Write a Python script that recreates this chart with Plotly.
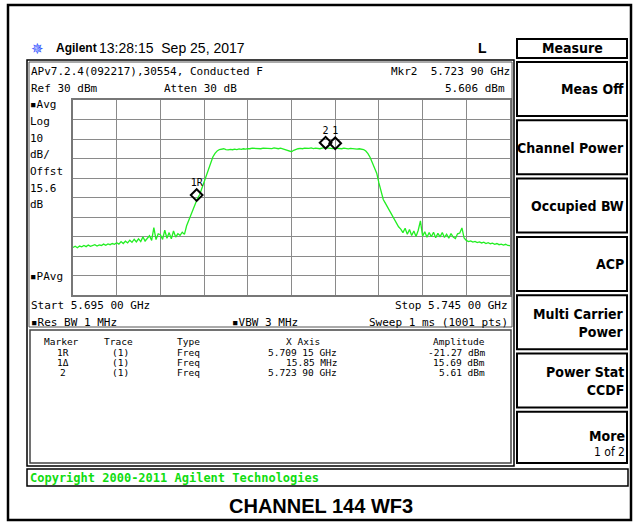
import numpy as np
import plotly.graph_objects as go

W, H = 636, 524

# ---------------- data ----------------
start_mhz, stop_mhz, n_pts = 5695.0, 5745.0, 201
trace_dbm = [
    -45.6, -45.0, -45.8, -44.9, -45.3, -44.6, -45.2, -44.4, -45.0, -44.7,
    -44.2, -44.9, -44.3, -44.6, -43.9, -44.5, -43.8, -44.2, -43.6, -44.0,
    -43.2, -43.9, -42.6, -43.6, -42.4, -43.3, -41.9, -43.0, -41.4, -42.8,
    -41.2, -42.6, -40.2, -42.3, -40.8, -39.6, -42.0, -35.5, -41.6, -38.6,
    -39.1, -41.5, -36.8, -40.9, -38.0, -41.2, -37.2, -40.3, -38.6, -39.4,
    -37.8, -38.9, -34.5, -31.5, -28.5, -25.8, -22.8, -20.4, -18.5, -15.2,
    -12.0, -8.5, -5.0, -1.8, 0.8, 2.6, 3.9, 4.6, 4.9, 5.0,
    4.6, 4.4, 4.7, 4.5, 4.8, 4.6, 4.9, 4.7, 5.0, 4.8,
    5.1, 5.0, 5.3, 5.2, 5.4, 5.1, 5.0, 5.3, 5.2, 5.4,
    5.3, 5.1, 5.4, 5.2, 5.0, 5.3, 4.9, 4.5, 4.0, 3.6,
    3.5, 4.2, 4.8, 5.0, 5.2, 5.0, 5.3, 5.1, 5.2, 5.4,
    5.1, 5.3, 5.2, 5.0, 5.3, 5.6, 5.4, 5.2, 5.3, 5.1,
    5.3, 5.1, 5.2, 5.0, 5.3, 5.1, 4.9, 5.2, 5.0, 5.1,
    4.8, 5.0, 4.9, 4.6, 3.8, 2.5, 0.5, -2.0, -4.5, -7.5,
    -12.5, -17.5, -21.0, -23.0, -25.0, -27.5, -29.5, -31.5, -33.5, -35.0,
    -36.2, -38.0, -35.8, -38.9, -36.4, -39.5, -37.2, -40.0, -36.8, -32.0,
    -39.8, -37.6, -40.4, -38.0, -40.1, -37.8, -40.6, -38.4, -40.2, -37.9,
    -40.5, -38.8, -40.9, -38.5, -40.3, -41.0, -38.6, -38.2, -35.6, -40.8,
    -42.0, -42.6, -42.3, -42.9, -42.5, -43.1, -42.8, -43.3, -42.9, -43.6,
    -43.2, -43.7, -43.4, -44.0, -43.6, -44.2, -43.9, -44.4, -44.0, -44.6,
    -44.7,
]
freq_mhz = np.linspace(start_mhz, stop_mhz, n_pts)

marker_labels = ["1R", "1", "2"]
marker_freq_mhz = [5709.15, 5725.00, 5723.90]
marker_amp_dbm = [-21.27, 5.3, 5.61]

ref_dbm, db_per_div = 30, 10

table_rows = [
    ["1R", "(1)", "Freq", "5.709 15 GHz", "-21.27 dBm"],
    ["1\u0394", "(1)", "Freq", "15.85 MHz", "15.69 dBm"],
    ["2", "(1)", "Freq", "5.723 90 GHz", "5.61 dBm"],
]
softkeys = ["Meas Off", "Channel Power", "Occupied BW", "ACP",
            "Multi Carrier<br>Power", "Power Stat<br>CCDF", "More"]

# ---------------- helpers ----------------
MONO = "DejaVu Sans Mono"
SANS = "Liberation Sans"
KEYF = "DejaVu Sans Condensed"
ann = []
shp = []


def T(x, y, text, size=11, anchor="left", family=MONO, color="black", bold=False):
    if bold:
        text = "<b>" + text + "</b>"
    ann.append(dict(xref="paper", yref="paper", x=x / W, y=1 - y / H, text=text,
                    showarrow=False, xanchor=anchor, yanchor="middle",
                    borderpad=0, borderwidth=0,
                    font=dict(family=family, size=size, color=color)))


def R(x0, y0, x1, y1, lw=1, color="black", fill=None):
    shp.append(dict(type="rect", xref="paper", yref="paper",
                    x0=x0 / W, x1=x1 / W, y0=1 - y1 / H, y1=1 - y0 / H,
                    line=dict(color=color, width=lw),
                    fillcolor=fill if fill else "rgba(0,0,0,0)", layer="above"))


# ---------------- figure ----------------
fig = go.Figure()
fig.add_trace(go.Scatter(x=freq_mhz, y=trace_dbm, mode="lines",
                         line=dict(color="#22ee22", width=1.3), hoverinfo="skip"))
# marker diamonds are drawn just above the marked point
fig.add_trace(go.Scatter(x=marker_freq_mhz, y=[a + 2.5 for a in marker_amp_dbm],
                         mode="markers+text", text=marker_labels,
                         textposition="top center",
                         textfont=dict(family=MONO, size=10, color="black"),
                         marker=dict(symbol="diamond-open", size=9,
                                     line=dict(color="black", width=2), color="black"),
                         hoverinfo="skip"))

# outer frame
R(8, 5, 631, 520, lw=2.5)
# header
T(31, 48, "<span style='color:#3355ff'>\u2735</span>", size=15, family=SANS)
T(56, 48, "Agilent", size=12, family=SANS, bold=True)
T(99, 48, "13:28:15&nbsp;&nbsp;Sep 25, 2017", size=14, family=SANS)
T(487, 48, "L", size=14, family=SANS, bold=True, anchor="right")

# main screen box (double border)
R(27, 60, 514, 466, lw=1.5)
R(29, 62, 512, 327, lw=1, color="#555555")
R(30, 330, 511, 463, lw=1.5, color="#444444")

T(31, 71, "APv7.2.4(092217),30554, Conducted F")
T(31, 88, "Ref 30 dBm")
T(164, 88, "Atten 30 dB")
T(510, 71, "Mkr2  5.723 90 GHz", anchor="right")
T(505, 88, "5.606 dBm", anchor="right")

left_labels = ["\u25aaAvg", "Log", "10", "dB/", "Offst", "15.6", "dB"]
for i, s in enumerate(left_labels):
    T(30, 105 + 16.6 * i, s)
T(30, 276, "\u25aaPAvg")

T(31, 305, "Start 5.695 00 GHz")
T(508, 305, "Stop 5.745 00 GHz", anchor="right")
T(31, 322, "\u25aaRes BW 1 MHz")
T(232, 322, "\u25aaVBW 3 MHz")
T(508, 322, "Sweep 1 ms (1001 pts)", anchor="right")

# marker table
TS = 9.5
T(61, 341.5, "Marker", size=TS, anchor="center")
T(119, 341.5, "Trace", size=TS, anchor="center")
T(177, 341.5, "Type", size=TS)
T(320, 341.5, "X Axis", size=TS, anchor="right")
T(485, 341.5, "Amplitude", size=TS, anchor="right")
for i, row in enumerate(table_rows):
    yy = 352 + 10.2 * i
    T(63, yy, row[0], size=TS, anchor="center")
    T(120, yy, row[1], size=TS, anchor="center")
    T(177, yy, row[2], size=TS)
    T(337, yy, row[3], size=TS, anchor="right")
    T(485, yy, row[4], size=TS, anchor="right")

# softkeys
R(517, 39, 627, 58, lw=2)
T(572, 48.5, "Measure", size=14, family=KEYF, bold=True, anchor="center")
for i, lab in enumerate(softkeys):
    top = 62 + 58.3 * i
    bot = top + 54 if i < 6 else 463
    R(517, top, 627, bot, lw=2)
    if i == 6:
        T(625, 436, lab, size=14, family=KEYF, bold=True, anchor="right")
        T(625, 452, "1 of 2", size=12, family=KEYF, anchor="right")
    else:
        ann.append(dict(xref="paper", yref="paper", x=625 / W, y=1 - (top + 27.5) / H,
                        text="<b>" + lab + "</b>", showarrow=False, xanchor="right",
                        yanchor="middle", align="right", borderpad=0,
                        font=dict(family=KEYF, size=14, color="black")))

# copyright bar
R(27, 469, 628, 486, lw=1.5)
T(30, 477.5, "Copyright 2000-2011 Agilent Technologies", size=12,
  family=MONO, color="#11dd11", bold=True)

# caption
T(321, 506, "CHANNEL 144 WF3", size=20, family=SANS, bold=True, anchor="center")

fig.update_layout(
    width=W, height=H, autosize=False,
    margin=dict(l=0, r=0, t=0, b=0),
    paper_bgcolor="white", plot_bgcolor="white",
    showlegend=False,
    annotations=ann, shapes=shp,
    xaxis=dict(domain=[73 / W, 510 / W], range=[start_mhz, stop_mhz], dtick=5,
               tick0=start_mhz, showticklabels=False, ticks="",
               showgrid=True, gridcolor="#8a8a8a", gridwidth=1.3,
               showline=True, linecolor="#777777", linewidth=2, mirror=True,
               zeroline=False, fixedrange=True),
    yaxis=dict(domain=[1 - 295 / H, 1 - 100 / H],
               range=[ref_dbm - 10 * db_per_div, ref_dbm], dtick=db_per_div,
               showticklabels=False, ticks="",
               showgrid=True, gridcolor="#8a8a8a", gridwidth=1.3,
               showline=True, linecolor="#777777", linewidth=2, mirror=True,
               zeroline=False, fixedrange=True),
)

fig.write_html("out.html", config={"displayModeBar": False},
               post_script="document.body.style.margin='0';document.body.style.overflow='hidden';")
